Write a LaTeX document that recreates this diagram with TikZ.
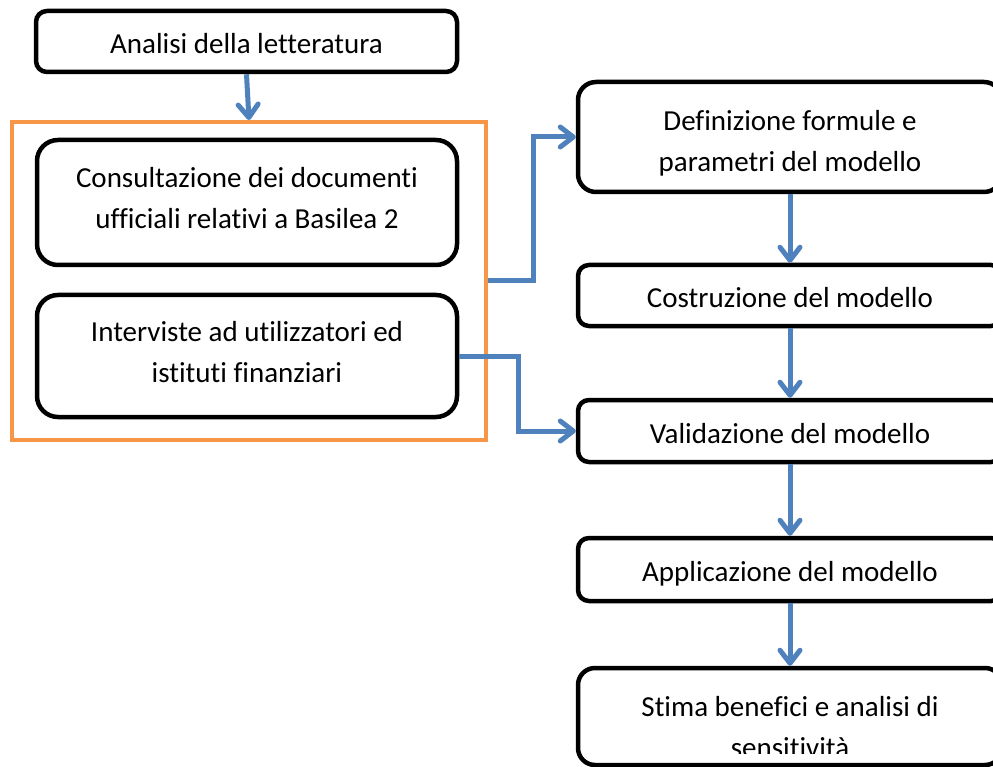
\documentclass[tikz,border=0pt]{standalone}
\usepackage{fontspec}
\setmainfont{Carlito}[Ligatures=NoCommon]
\usetikzlibrary{arrows.meta}
\definecolor{flowblue}{RGB}{79,129,189}
\definecolor{grouporange}{RGB}{247,150,70}
\begin{document}
\begin{tikzpicture}[x=1pt,y=-1pt,
  stepbox/.style={draw=black, line width=4.5pt, fill=white, align=center,
    font=\fontsize{29}{41}\selectfont, inner sep=0pt,
    text height=24pt, text depth=0pt},
  steptext/.style={align=center, font=\fontsize{29}{41}\selectfont, inner sep=0pt},
  flow/.style={draw=flowblue, line width=5pt,
    -{Straight Barb[length=13pt,width=20pt,round]}},
  groupbox/.style={draw=grouporange, line width=4pt}]
\clip (0,0) rectangle (993,767);
\fill[white] (0,0) rectangle (993,767);

% left column
\node[stepbox, rounded corners=11pt, minimum width=421pt, minimum height=61pt]
  (lit) at (246.5,41.5) {Analisi della letteratura};
\node[groupbox, minimum width=474pt, minimum height=318pt] (grp) at (249,281) {};
\node[stepbox, rounded corners=21pt, minimum width=420pt, minimum height=125pt]
  (cons) at (247,202.5) {};
\node[steptext] (constext) at (247,198.5)
  {Consultazione dei documenti\\ufficiali relativi a Basilea 2};
\node[stepbox, rounded corners=21pt, minimum width=420pt, minimum height=122pt]
  (intv) at (247,356) {};
\node[steptext] (intvtext) at (247,352)
  {Interviste ad utilizzatori ed\\istituti finanziari};

% right column
\node[stepbox, rounded corners=18pt, minimum width=424pt, minimum height=110pt]
  (def) at (790,137) {};
\node[steptext] (deftext) at (790,143.5)
  {Definizione formule e\\parametri del modello};
\node[stepbox, rounded corners=11pt, minimum width=424pt, minimum height=61pt]
  (cost) at (790,295.5) {Costruzione del modello};
\node[stepbox, rounded corners=11pt, minimum width=424pt, minimum height=62pt]
  (val) at (790,431) {Validazione del modello};
\node[stepbox, rounded corners=11pt, minimum width=424pt, minimum height=63pt]
  (app) at (790,569.5) {Applicazione del modello};
\node[stepbox, rounded corners=17pt, minimum width=424pt, minimum height=97pt]
  (stima) at (790,716.5) {};
\begin{scope}
  \clip (580,670) rectangle (1000,753);
  \node[steptext] (stimatext) at (790,727) {Stima benefici e analisi di\\sensitività};
\end{scope}

% connectors
\draw[flow] (lit.south) -- (grp.north);
\draw[flow] (grp.east) -- ++(45,0) |- (def.west);
\draw[flow] (intv.east) -- ++(59,0) |- (val.west);
\draw[flow] (def.south) -- (cost.north);
\draw[flow] (cost.south) -- (val.north);
\draw[flow] (val.south) -- (app.north);
\draw[flow] (app.south) -- (stima.north);
\end{tikzpicture}
\end{document}
